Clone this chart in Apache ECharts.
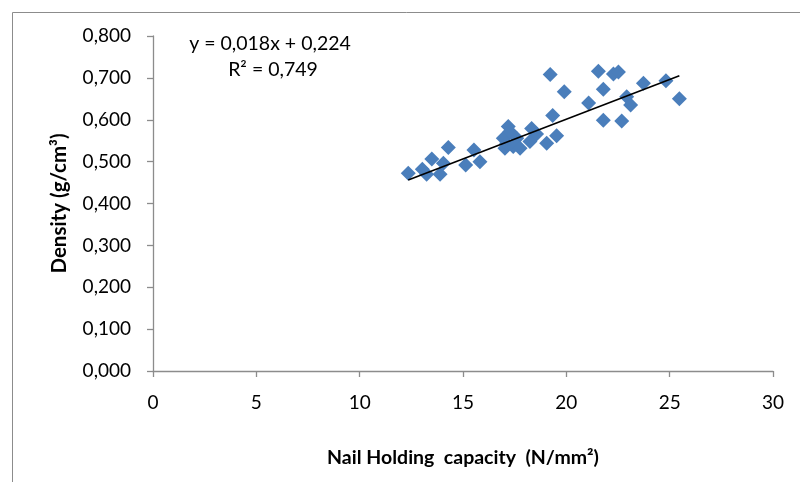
<!DOCTYPE html>
<html>
<head>
<meta charset="utf-8">
<script src="https://cdn.jsdelivr.net/npm/echarts@6/dist/echarts.min.js"></script>
<style>
html,body{margin:0;padding:0;background:#fff;}
#chart{width:800px;height:482px;}
</style>
</head>
<body>
<div id="chart"></div>
<script>
// Nail holding capacity (N/mm²)
const capacity = [12.35,13.03,13.24,13.49,13.89,14.05,14.29,15.13,15.53,15.82,
  16.95,17.03,17.11,17.19,17.27,17.43,17.60,17.76,18.24,18.32,18.56,19.05,19.53,19.34,
  19.22,19.90,21.08,21.55,21.79,21.79,22.28,22.52,22.68,22.92,23.11,23.73,24.82,25.47];
// Density (g/cm³)
const density = [0.472,0.482,0.470,0.506,0.470,0.496,0.534,0.492,0.528,0.500,
  0.556,0.532,0.544,0.584,0.572,0.536,0.556,0.532,0.548,0.579,0.566,0.544,0.562,0.610,
  0.708,0.667,0.640,0.716,0.673,0.599,0.709,0.714,0.597,0.655,0.635,0.687,0.693,0.650];
// Trend line end points as drawn
const trendX = [12.35, 25.47];
const trendY = [0.456, 0.705];
const eqLines = ['y = 0,018x + 0,224', 'R² = 0,749'];
const xTitle = 'Nail Holding  capacity  (N/mm²)';
const yTitle = 'Density (g/cm³)';

const pts = capacity.map((x, i) => [x, density[i]]);
const trend = trendX.map((x, i) => [x, trendY[i]]);
const FONT = 'Lato';

const chart = echarts.init(document.getElementById('chart'), null, {renderer: 'canvas'});
chart.setOption({
  animation: false,
  backgroundColor: '#fff',
  textStyle: {fontFamily: FONT},
  grid: {left: 153, right: 27, top: 36, bottom: 111},
  graphic: [
    {type: 'polyline', shape: {points: [[12.5, 500], [12.5, 12.5], [820, 12.5]]},
     style: {stroke: '#8c8c8c', lineWidth: 1, fill: null}, z: 0},
    {type: 'text', x: 270, y: 44, style: {text: eqLines[0], font: '19.5px ' + FONT, fill: '#000', textAlign: 'center', textVerticalAlign: 'middle'}},
    {type: 'text', x: 273, y: 70, style: {text: eqLines[1], font: '19.5px ' + FONT, fill: '#000', textAlign: 'center', textVerticalAlign: 'middle'}}
  ],
  xAxis: {
    type: 'value', min: 0, max: 30, interval: 5,
    name: xTitle, nameLocation: 'middle', nameGap: 77,
    nameTextStyle: {fontSize: 19.5, fontWeight: 'bold', color: '#000', fontFamily: FONT},
    axisLine: {show: true, lineStyle: {color: '#8c8c8c', width: 1.3}},
    axisTick: {show: true, inside: false, length: 6, lineStyle: {color: '#8c8c8c', width: 1.3}},
    axisLabel: {fontSize: 19, color: '#000', margin: 22, fontFamily: FONT},
    splitLine: {show: false}
  },
  yAxis: {
    type: 'value', min: 0, max: 0.8, interval: 0.1,
    name: yTitle, nameLocation: 'middle', nameGap: 83, nameRotate: 90,
    nameTextStyle: {fontSize: 20.5, fontWeight: 'bold', color: '#000', fontFamily: FONT},
    axisLine: {show: true, lineStyle: {color: '#8c8c8c', width: 1.3}},
    axisTick: {show: true, inside: false, length: 6, lineStyle: {color: '#8c8c8c', width: 1.3}},
    axisLabel: {fontSize: 19, color: '#000', margin: 22, fontFamily: FONT,
      formatter: v => v.toFixed(3).replace('.', ',')},
    splitLine: {show: false}
  },
  series: [
    {type: 'scatter', data: pts, symbol: 'diamond', symbolSize: 15,
     itemStyle: {color: '#4a7ebb', opacity: 1}, z: 2},
    {type: 'line', data: trend, symbol: 'none', lineStyle: {color: '#000', width: 1.6}, z: 3}
  ]
});
</script>
</body>
</html>
